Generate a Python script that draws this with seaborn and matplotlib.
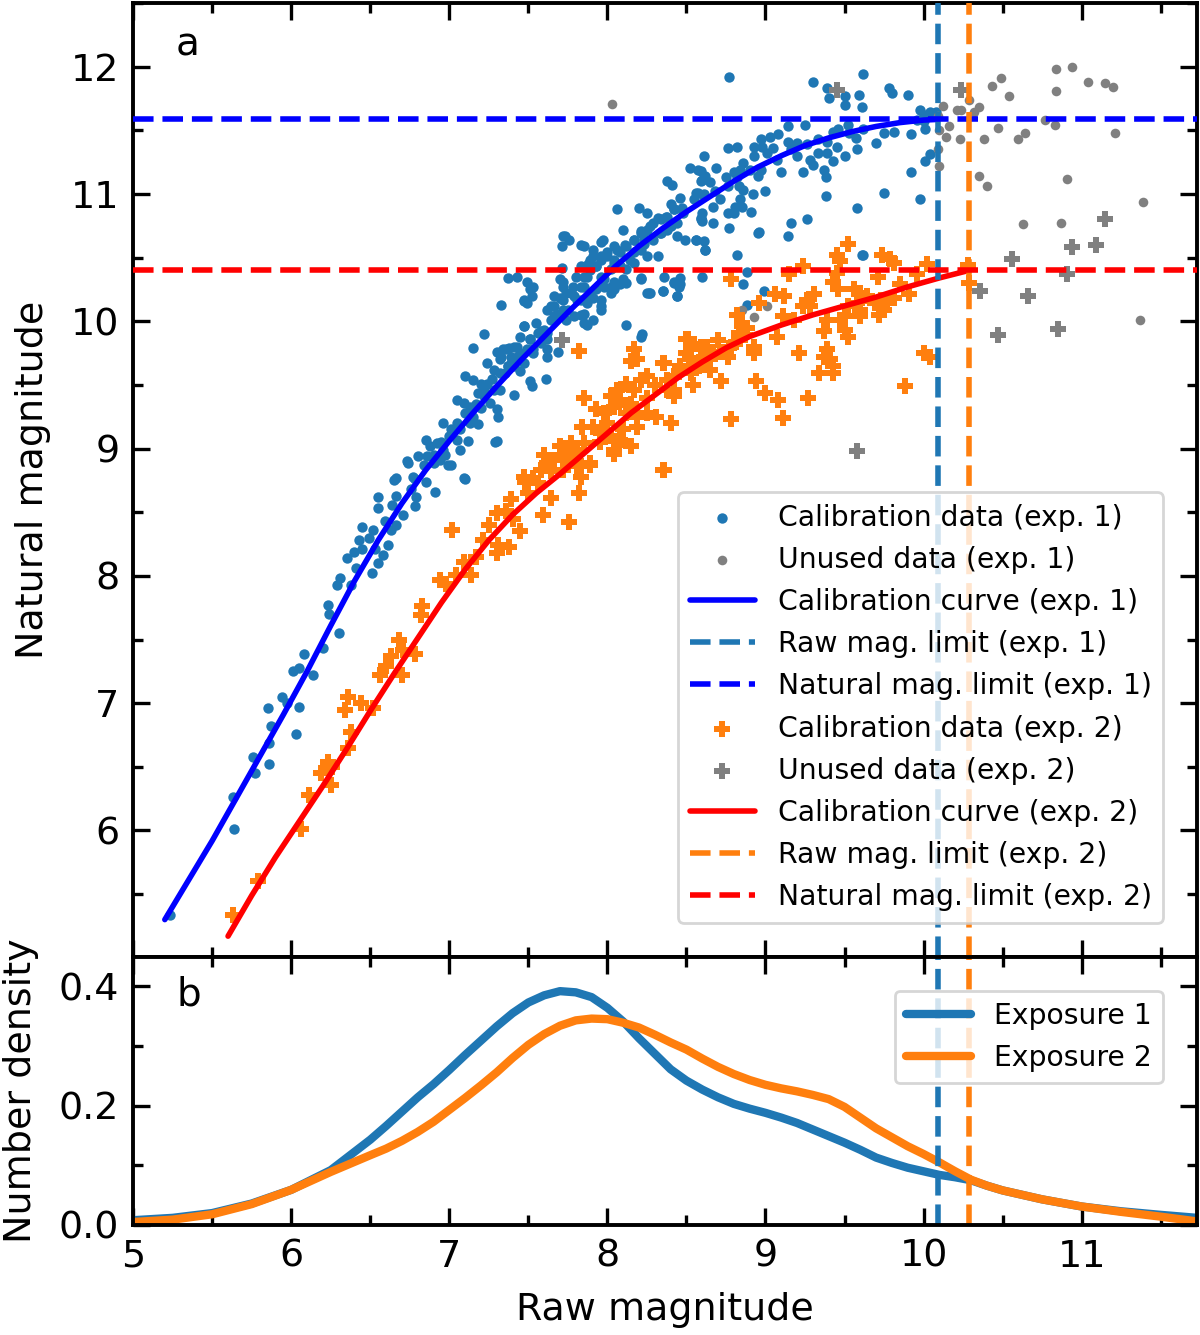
import matplotlib
matplotlib.use("Agg")
import matplotlib.pyplot as plt
from matplotlib.ticker import MultipleLocator, FormatStrFormatter
import pandas as pd
import seaborn as sns

# exposure 1 calibration stars (raw mag, natural mag)
cal1 = [
    (5.23, 5.34), (5.64, 6.01), (5.63, 6.26), (5.76, 6.58), (5.77, 6.45), (5.86, 6.52), (5.86, 6.69),
    (5.87, 6.82), (5.85, 6.96), (5.94, 7.05), (6.03, 6.76), (6.05, 6.97), (5.97, 7.00), (6.01, 7.25),
    (6.08, 7.39), (6.05, 7.28), (6.14, 7.22), (6.20, 7.43), (6.30, 7.55), (6.24, 7.70), (6.23, 7.77),
    (6.29, 7.93), (6.31, 7.98), (6.38, 7.93), (6.35, 8.14), (6.41, 8.06), (6.40, 8.19), (6.45, 8.21),
    (6.43, 8.28), (6.49, 8.30), (6.45, 8.38), (6.52, 8.36), (6.51, 8.02), (6.53, 8.21), (6.55, 8.10),
    (6.58, 8.16), (6.61, 8.24), (6.55, 8.62), (6.55, 8.53), (6.59, 8.43), (6.63, 8.36), (6.65, 8.75),
    (6.66, 8.63), (6.66, 8.40), (6.64, 8.56), (6.71, 8.48), (6.74, 8.89), (6.80, 8.94), (6.78, 8.76),
    (6.76, 8.68), (6.79, 8.62), (6.78, 8.55), (6.85, 8.74), (6.91, 8.66), (6.99, 8.87), (7.10, 8.76),
    (6.86, 8.94), (6.94, 8.91), (6.97, 8.95), (6.73, 8.90), (6.84, 8.87), (6.90, 8.89), (6.66, 8.77),
    (6.77, 8.78), (7.09, 8.77), (7.01, 8.87),
    (6.85, 9.07), (6.88, 9.02), (6.92, 9.04), (6.96, 8.99), (7.05, 9.07), (7.07, 8.99), (6.96, 9.20),
    (7.01, 9.15), (7.07, 9.15), (7.13, 9.20), (7.18, 9.19), (7.12, 9.06), (7.29, 9.05), (7.30, 9.06),
    (7.05, 9.38), (7.09, 9.36), (7.13, 9.33), (7.20, 9.32), (7.26, 9.36), (7.30, 9.31), (7.31, 9.25),
    (7.15, 9.25), (7.10, 9.57), (7.15, 9.54), (7.20, 9.51), (7.24, 9.51), (7.28, 9.46), (7.32, 9.46),
    (7.18, 9.44), (7.22, 9.41), (7.41, 9.42), (7.61, 9.55), (7.51, 9.53), (7.52, 9.49), (7.24, 9.67),
    (7.28, 9.62), (7.32, 9.59), (7.37, 9.65), (7.45, 9.61), (7.47, 9.67), (7.15, 9.79), (7.30, 9.76),
    (7.36, 9.78), (7.41, 9.80), (7.45, 9.75), (7.32, 9.70), (7.39, 9.67), (7.43, 9.72), (7.49, 9.78),
    (7.53, 9.75), (7.62, 9.72), (7.22, 9.90), (7.47, 9.96), (7.55, 9.99), (7.58, 9.92), (7.62, 9.91),
    (7.51, 9.86), (7.58, 9.83), (7.62, 9.78), (7.45, 9.88), (7.69, 9.76), (7.62, 10.09), (7.66, 10.04),
    (7.72, 10.09), (7.74, 10.01), (7.79, 10.04), (7.83, 10.05), (7.85, 9.99), (7.87, 9.97), (7.91, 10.01),
    (8.12, 9.97), (8.21, 9.88), (8.22, 9.90), (7.66, 10.20), (7.64, 10.12), (7.70, 10.18), (7.74, 10.22),
    (7.79, 10.20), (7.83, 10.17), (7.87, 10.14), (7.91, 10.18), (7.96, 10.17), (8.02, 10.22), (7.96, 10.12),
    (7.37, 10.34), (7.43, 10.35), (7.49, 10.31), (7.53, 10.27), (7.52, 10.20), (7.47, 10.16), (7.49, 10.14),
    (7.33, 10.13), (7.71, 10.42), (7.72, 10.31), (7.78, 10.27), (7.85, 10.27), (7.93, 10.25), (7.98, 10.27),
    (8.04, 10.25), (8.08, 10.29), (7.83, 10.43), (7.88, 10.45), (7.80, 10.35), (7.87, 10.35), (7.96, 10.35),
    (8.04, 10.31), (8.10, 10.33), (7.91, 10.51), (7.96, 10.48), (8.00, 10.51), (8.04, 10.46), (8.08, 10.43),
    (7.93, 10.43), (8.02, 10.41), (8.12, 10.41), (8.17, 10.46), (8.21, 10.34), (8.26, 10.22), (8.35, 10.24),
    (8.42, 10.30), (8.46, 10.29), (8.44, 10.20), (8.60, 10.35), (8.36, 10.35), (8.46, 10.34), (8.27, 10.22),
    (8.32, 10.51), (8.25, 10.51), (8.21, 10.56), (8.14, 10.48), (8.08, 10.54), (7.72, 10.67), (7.76, 10.64),
    (7.71, 10.59), (7.85, 10.59), (7.97, 10.64), (8.04, 10.59), (8.11, 10.60), (8.17, 10.64), (8.23, 10.65),
    (8.10, 10.72), (8.21, 10.71), (8.27, 10.75), (8.33, 10.69), (8.40, 10.75), (8.20, 10.89), (8.06, 10.88),
    (8.25, 10.85), (8.32, 10.81), (8.37, 10.82), (8.59, 10.81), (8.60, 10.79), (8.56, 10.64), (8.62, 10.56),
    (8.44, 10.67), (8.49, 10.64), (8.46, 10.97), (8.40, 10.92), (8.42, 10.88), (8.47, 10.89), (8.38, 11.10),
    (8.41, 11.07), (8.61, 11.30), (8.52, 11.20), (8.59, 11.18), (8.60, 11.11), (8.56, 11.01), (8.61, 11.00),
    (8.77, 11.92), (9.30, 11.88), (9.62, 11.94), (9.39, 11.83), (9.40, 11.75), (9.50, 11.77), (9.50, 11.70),
    (9.59, 11.78), (9.61, 11.68), (9.78, 11.83), (9.80, 11.79), (9.90, 11.78), (9.98, 11.66), (10.00, 11.62),
    (10.04, 11.64), (9.96, 11.58), (10.00, 11.57), (10.08, 11.64), (10.01, 11.51), (9.92, 11.47),
    (10.04, 11.31), (10.01, 11.26), (9.92, 11.17), (9.98, 10.96), (9.75, 11.01), (9.58, 10.89), (9.62, 10.52),
    (9.25, 11.54), (9.33, 11.43), (9.39, 11.41), (9.43, 11.49), (9.46, 11.51), (9.52, 11.54), (9.53, 11.48),
    (9.62, 11.51), (9.70, 11.40), (9.75, 11.48), (9.81, 11.49), (9.14, 11.53), (9.20, 11.40), (9.26, 11.39),
    (9.33, 11.32), (9.39, 11.32), (9.45, 11.37), (9.50, 11.30), (9.43, 11.26), (9.58, 11.35), (9.57, 11.44),
    (9.03, 11.45), (9.08, 11.47), (9.14, 11.41), (9.16, 11.35), (9.20, 11.30), (9.28, 11.27), (9.10, 11.17),
    (9.24, 11.17), (9.30, 11.23), (9.37, 11.19), (9.38, 11.13), (9.38, 10.98), (8.97, 11.43), (8.98, 11.37),
    (9.01, 11.32), (9.05, 11.36), (9.07, 11.27), (8.97, 11.19), (8.93, 11.30), (8.90, 11.19), (8.84, 11.19),
    (8.86, 11.24), (8.76, 11.36), (8.82, 11.37), (8.93, 11.37), (8.95, 11.14), (9.00, 11.02), (8.92, 11.00),
    (8.91, 10.86), (8.80, 11.17), (8.82, 11.13), (8.75, 11.13), (8.76, 11.06), (8.83, 11.06), (8.86, 11.03),
    (8.84, 10.96), (8.81, 10.90), (8.85, 10.90), (8.62, 11.14), (8.59, 11.10), (8.57, 11.19), (8.69, 11.20),
    (8.65, 11.09), (8.68, 11.02), (8.71, 10.96), (8.67, 10.90), (8.76, 10.85), (8.77, 10.73), (8.60, 10.85),
    (8.57, 11.01), (8.55, 10.96), (8.61, 10.98), (8.59, 10.80), (8.67, 10.77), (8.80, 10.85), (8.96, 10.70),
    (9.14, 10.67), (9.16, 10.77), (9.26, 10.80), (8.82, 10.52), (8.56, 10.64), (8.61, 10.63), (8.62, 10.56),
    (8.88, 10.39), (8.86, 10.29), (8.99, 10.24), (8.88, 10.13), (8.95, 10.69), (9.61, 10.52), (8.42, 10.31),
    (8.45, 10.27), (8.44, 10.20), (8.35, 10.24),
    # dense part of the band
    (7.34, 9.78), (7.39, 9.72), (7.43, 9.80), (7.37, 9.65), (7.45, 9.70), (7.51, 9.86), (7.56, 9.91),
    (7.60, 9.93), (7.53, 9.78), (7.62, 9.86), (7.64, 10.01), (7.68, 10.06), (7.66, 10.12), (7.72, 10.17),
    (7.75, 10.09), (7.77, 10.22), (7.81, 10.17), (7.83, 10.27), (7.70, 10.33), (7.72, 10.27), (7.85, 10.35),
    (7.89, 10.40), (7.93, 10.43), (7.89, 10.48), (7.96, 10.51), (8.00, 10.54), (7.91, 10.56), (8.04, 10.48),
    (8.08, 10.43), (8.06, 10.56), (8.12, 10.59), (7.98, 10.33), (8.02, 10.27), (7.89, 10.20), (7.96, 10.09),
    (7.85, 10.06), (8.17, 10.64), (8.21, 10.69), (8.25, 10.72), (8.29, 10.77), (8.34, 10.80), (8.38, 10.82),
    (8.42, 10.88), (8.23, 10.61), (8.29, 10.64), (8.17, 10.54), (8.34, 10.69), (8.38, 10.72), (8.44, 10.77),
    (8.48, 10.85), (8.12, 10.30), (8.21, 10.33), (8.25, 10.22), (7.47, 9.96), (7.47, 10.17), (7.51, 10.25),
    (7.73, 10.67), (7.83, 10.60), (7.96, 10.62), (7.33, 9.72), (7.38, 9.79), (7.41, 9.65), (7.35, 9.59),
    (7.00, 9.10), (7.05, 9.20), (7.10, 9.28), (7.17, 9.35), (7.22, 9.45), (7.27, 9.55), (6.90, 8.95),
    (6.95, 9.05),
]

# exposure 1 stars beyond the limits
unused1 = [
    (8.03, 11.71), (10.12, 11.69), (10.10, 11.50), (10.14, 11.45), (10.09, 11.35), (10.10, 11.22),
    (10.16, 11.53), (10.21, 11.66), (10.24, 11.66), (10.29, 11.74), (10.35, 11.68), (10.32, 11.64),
    (10.23, 11.43), (10.38, 11.43), (10.47, 11.52), (10.43, 11.85), (10.49, 11.91), (10.54, 11.77),
    (10.60, 11.43), (10.64, 11.48), (10.77, 11.58), (10.83, 11.54), (10.84, 11.98), (10.94, 12.00),
    (10.84, 11.81), (11.04, 11.88), (11.15, 11.87), (11.20, 11.84), (11.21, 11.48), (10.35, 11.14),
    (10.40, 11.06), (10.91, 11.12), (11.39, 10.94), (10.63, 10.76), (10.87, 10.77), (11.37, 10.01),
    (10.09, 11.61), (8.85, 10.09), (8.93, 10.03), (9.01, 10.12),
]

# exposure 2 calibration stars
cal2 = [
    (5.63, 5.34), (5.79, 5.60), (6.06, 6.01), (6.11, 6.28), (6.19, 6.45), (6.25, 6.36), (6.26, 6.50),
    (6.23, 6.54), (6.36, 6.65), (6.38, 6.77), (6.34, 6.95), (6.36, 7.05), (6.44, 7.00), (6.52, 6.96),
    (6.56, 7.22), (6.70, 7.22), (6.60, 7.29), (6.63, 7.37), (6.68, 7.50), (6.78, 7.39), (6.71, 7.42),
    (6.83, 7.76), (6.82, 7.69), (7.02, 8.36), (6.94, 7.97), (6.98, 7.94), (7.04, 8.01), (7.09, 8.11),
    (7.14, 8.01), (7.17, 8.15), (7.21, 8.28), (7.30, 8.18), (7.31, 8.24), (7.30, 8.49), (7.36, 8.51),
    (7.39, 8.60), (7.45, 8.35), (7.38, 8.23), (7.48, 8.74), (7.56, 8.73), (7.59, 8.48), (7.64, 8.61),
    (7.76, 8.42), (7.82, 8.65), (7.63, 8.89), (7.74, 8.91), (7.83, 8.86), (7.89, 8.87), (8.04, 8.96),
    (8.35, 8.83), (7.47, 8.78), (7.53, 8.77), (7.83, 8.78), (7.82, 9.77),
    (7.70, 9.02), (7.77, 9.04), (7.81, 8.99), (7.85, 9.04), (7.74, 8.94), (7.66, 8.91), (7.62, 8.89),
    (7.58, 8.83), (7.64, 8.82), (7.72, 8.83), (7.81, 8.86), (7.89, 8.89), (7.84, 9.17), (7.91, 9.17),
    (7.96, 9.12), (8.02, 9.10), (8.04, 8.99), (8.08, 9.07), (8.15, 9.02), (8.19, 9.17), (7.85, 9.40),
    (7.93, 9.31), (7.98, 9.28), (8.04, 9.33), (8.12, 9.28), (8.19, 9.25), (8.25, 9.28), (8.31, 9.25),
    (8.40, 9.20), (8.12, 9.51), (8.06, 9.46), (8.02, 9.41), (8.08, 9.38), (8.17, 9.46), (8.38, 9.54),
    (8.42, 9.46), (8.54, 9.50), (8.17, 9.78), (8.19, 9.70), (8.15, 9.69), (8.35, 9.67), (8.25, 9.57),
    (8.21, 9.54), (8.51, 9.86), (8.59, 9.80), (8.53, 9.78), (8.61, 9.72), (8.55, 9.67), (8.58, 9.65),
    (8.50, 9.86), (8.55, 9.82), (8.63, 9.80), (8.67, 9.75), (8.71, 9.76), (8.76, 9.72), (8.78, 9.80),
    (8.80, 9.83), (8.84, 9.86), (8.52, 9.70), (8.57, 9.65), (8.65, 9.70), (8.46, 9.65), (8.42, 9.57),
    (8.38, 9.46), (8.42, 9.41), (8.36, 9.67), (8.53, 9.59), (8.40, 9.20), (8.36, 8.83), (8.72, 9.53),
    (8.78, 9.23), (8.94, 9.53), (9.00, 9.44), (9.08, 9.38), (9.11, 9.24), (9.27, 9.40), (9.88, 9.49),
    (8.85, 9.96), (8.88, 9.95), (8.83, 9.91), (8.87, 9.89), (9.07, 9.88), (9.37, 9.92), (9.50, 9.93),
    (9.52, 9.88), (8.93, 9.80), (8.93, 9.75), (9.21, 9.75), (9.39, 9.78), (9.37, 9.72), (9.41, 9.70),
    (9.43, 9.65), (9.34, 9.59), (9.43, 9.59), (10.00, 9.75), (10.04, 9.72), (9.11, 10.04), (9.18, 10.01),
    (9.39, 10.01), (9.47, 10.01), (9.50, 10.04), (9.60, 10.04), (9.72, 10.05), (9.75, 10.09), (9.56, 10.25),
    (9.60, 10.22), (9.64, 10.20), (9.58, 10.14), (9.69, 10.14), (9.73, 10.17), (9.77, 10.14), (9.81, 10.18),
    (9.91, 10.21), (9.52, 10.12), (9.60, 10.09), (9.24, 10.43), (9.15, 10.37), (8.78, 10.33), (8.96, 10.14),
    (8.82, 10.05), (9.06, 10.21), (9.12, 10.20), (9.26, 10.17), (9.31, 10.21), (9.24, 10.12), (9.28, 10.12),
    (9.52, 10.61), (9.45, 10.52), (9.47, 10.47), (9.45, 10.38), (9.43, 10.31), (9.46, 10.25), (9.74, 10.52),
    (9.79, 10.49), (9.81, 10.46), (9.71, 10.35), (9.85, 10.29), (10.02, 10.45), (9.96, 10.37),
    (10.28, 10.44), (10.29, 10.30),
    # dense part of the band
    (7.95, 9.05), (8.00, 9.20), (8.10, 9.15), (8.15, 9.35), (8.25, 9.40), (8.30, 9.50), (8.45, 9.60),
    (8.50, 9.75), (8.65, 9.62), (8.70, 9.85), (7.70, 8.95), (7.60, 8.95), (7.50, 8.65), (7.40, 8.45),
    (7.25, 8.40),
]

# exposure 2 stars beyond the limits
unused2 = [
    (9.45, 11.82), (10.24, 11.82), (11.15, 10.80), (11.09, 10.60), (10.94, 10.58), (10.56, 10.49),
    (10.91, 10.37), (10.36, 10.24), (10.66, 10.20), (10.47, 9.89), (10.85, 9.94), (9.58, 8.98), (7.71, 9.85),
]

# fitted calibration curves
curve1_raw = [5.20, 5.35, 5.50, 5.65, 5.80, 5.95, 6.10, 6.25, 6.40, 6.55, 6.70, 6.85, 7.00, 7.15, 7.30,
              7.45, 7.60, 7.75, 7.90, 8.05, 8.20, 8.35, 8.50, 8.65, 8.80, 8.95, 9.10, 9.25, 9.40, 9.55,
              9.70, 9.85, 10.00, 10.09]
curve1_nat = [5.30, 5.61, 5.92, 6.25, 6.58, 6.91, 7.25, 7.61, 7.96, 8.28, 8.57, 8.83, 9.06, 9.28, 9.49,
              9.69, 9.88, 10.07, 10.25, 10.43, 10.59, 10.73, 10.86, 10.98, 11.10, 11.21, 11.30, 11.38, 11.44,
              11.49, 11.53, 11.56, 11.58, 11.585]
curve2_raw = [5.60, 5.75, 5.90, 6.05, 6.20, 6.35, 6.50, 6.65, 6.80, 6.95, 7.10, 7.25, 7.40, 7.55, 7.70,
              7.85, 8.00, 8.15, 8.30, 8.45, 8.60, 8.75, 8.90, 9.10, 9.30, 9.50, 9.70, 9.90, 10.10, 10.29]
curve2_nat = [5.17, 5.49, 5.79, 6.07, 6.35, 6.64, 6.94, 7.23, 7.51, 7.79, 8.05, 8.28, 8.48, 8.65, 8.80,
              8.96, 9.12, 9.28, 9.42, 9.56, 9.68, 9.79, 9.88, 9.97, 10.05, 10.12, 10.19, 10.27, 10.34, 10.40]

# limits
raw_lim1, raw_lim2 = 10.09, 10.29
nat_lim1, nat_lim2 = 11.585, 10.40

# number density of raw magnitudes
dens_x = [5.00, 5.25, 5.50, 5.75, 6.00, 6.25, 6.50, 6.60, 6.70, 6.80, 6.90, 7.00, 7.10, 7.20, 7.30, 7.40,
          7.50, 7.60, 7.70, 7.80, 7.90, 8.00, 8.10, 8.20, 8.30, 8.40, 8.50, 8.60, 8.70, 8.80, 8.90, 9.00,
          9.10, 9.20, 9.30, 9.40, 9.50, 9.60, 9.70, 9.80, 9.90, 10.00, 10.10, 10.20, 10.30, 10.40, 10.50,
          10.75, 11.00, 11.25, 11.50, 11.73]
dens1 = [0.008, 0.012, 0.020, 0.036, 0.059, 0.092, 0.143, 0.166, 0.190, 0.214, 0.236, 0.260, 0.285, 0.309,
         0.333, 0.355, 0.373, 0.385, 0.392, 0.390, 0.382, 0.364, 0.341, 0.313, 0.287, 0.261, 0.242, 0.227,
         0.214, 0.203, 0.195, 0.188, 0.180, 0.171, 0.160, 0.149, 0.138, 0.126, 0.113, 0.104, 0.096, 0.090,
         0.084, 0.080, 0.075, 0.066, 0.058, 0.043, 0.031, 0.023, 0.017, 0.012]
dens2 = [0.005, 0.009, 0.018, 0.035, 0.059, 0.089, 0.117, 0.128, 0.141, 0.156, 0.173, 0.193, 0.213, 0.234,
         0.256, 0.280, 0.302, 0.320, 0.334, 0.343, 0.346, 0.345, 0.339, 0.331, 0.319, 0.306, 0.294, 0.279,
         0.265, 0.253, 0.243, 0.235, 0.229, 0.224, 0.218, 0.211, 0.198, 0.180, 0.162, 0.147, 0.132, 0.119,
         0.105, 0.090, 0.076, 0.066, 0.058, 0.043, 0.031, 0.022, 0.014, 0.006]


def to_df(points):
    return pd.DataFrame(points, columns=["raw", "nat"])


def style_axis(ax):
    ax.tick_params(which="both", direction="in", top=True, right=True, width=1.2,
                   labelsize=13.7, colors="black", pad=5)
    ax.tick_params(which="major", length=6)
    ax.tick_params(which="minor", length=3.5)
    for sp in ax.spines.values():
        sp.set_linewidth(1.4)
        sp.set_color("black")


def main():
    sns.set_style("ticks")
    plt.rcParams.update({
        "font.family": ["DejaVu Sans"],
        "text.color": "black",
        "axes.labelcolor": "black",
        "axes.edgecolor": "black",
        "xtick.color": "black",
        "ytick.color": "black",
    })

    fig = plt.figure(figsize=(6, 6.675), dpi=200)
    gs = fig.add_gridspec(2, 1, height_ratios=[952, 268], hspace=0,
                          left=0.111, right=0.9975, top=0.9978, bottom=0.0824)
    ax1 = fig.add_subplot(gs[0])
    ax2 = fig.add_subplot(gs[1], sharex=ax1)

    sns.scatterplot(data=to_df(cal1), x="raw", y="nat", ax=ax1, color="tab:blue", marker="o",
                    s=14, linewidth=0, label="Calibration data (exp. 1)", zorder=2)
    sns.scatterplot(data=to_df(unused1), x="raw", y="nat", ax=ax1, color="grey", marker="o",
                    s=12, linewidth=0, label="Unused data (exp. 1)", zorder=2)
    sns.scatterplot(data=to_df(cal2), x="raw", y="nat", ax=ax1, color="tab:orange", marker="P",
                    s=30, linewidth=0, label="Calibration data (exp. 2)", zorder=2)
    sns.scatterplot(data=to_df(unused2), x="raw", y="nat", ax=ax1, color="grey", marker="P",
                    s=30, linewidth=0, label="Unused data (exp. 2)", zorder=2)

    sns.lineplot(x=curve1_raw, y=curve1_nat, ax=ax1, color="blue", lw=2, sort=False,
                 label="Calibration curve (exp. 1)", zorder=3)
    sns.lineplot(x=curve2_raw, y=curve2_nat, ax=ax1, color="red", lw=2, sort=False,
                 label="Calibration curve (exp. 2)", zorder=3)

    ax1.axvline(raw_lim1, color="tab:blue", ls="--", lw=2, label="Raw mag. limit (exp. 1)", zorder=3)
    ax1.axhline(nat_lim1, color="blue", ls="--", lw=2, label="Natural mag. limit (exp. 1)", zorder=3)
    ax1.axvline(raw_lim2, color="tab:orange", ls="--", lw=2, label="Raw mag. limit (exp. 2)", zorder=3)
    ax1.axhline(nat_lim2, color="red", ls="--", lw=2, label="Natural mag. limit (exp. 2)", zorder=3)

    order = ["Calibration data (exp. 1)", "Unused data (exp. 1)", "Calibration curve (exp. 1)",
             "Raw mag. limit (exp. 1)", "Natural mag. limit (exp. 1)", "Calibration data (exp. 2)",
             "Unused data (exp. 2)", "Calibration curve (exp. 2)", "Raw mag. limit (exp. 2)",
             "Natural mag. limit (exp. 2)"]
    handles, labels = ax1.get_legend_handles_labels()
    lookup = dict(zip(labels, handles))
    ax1.legend([lookup[k] for k in order], order, loc="lower right", fontsize=10.2,
               handlelength=2.3, borderaxespad=1.2, framealpha=0.8)

    ax1.set_xlim(5, 11.73)
    ax1.set_ylim(5.01, 12.5)
    ax1.xaxis.set_major_locator(MultipleLocator(1))
    ax1.xaxis.set_minor_locator(MultipleLocator(0.5))
    ax1.yaxis.set_major_locator(MultipleLocator(1))
    ax1.yaxis.set_minor_locator(MultipleLocator(0.5))
    style_axis(ax1)
    ax1.tick_params(labelbottom=False)
    ax1.set_xlabel("")
    ax1.set_ylabel("Natural magnitude", fontsize=13.7, labelpad=7)
    ax1.text(0.051, 0.956, "a", transform=ax1.transAxes, fontsize=14, ha="center", va="center")

    # bottom panel: number density
    sns.lineplot(x=dens_x, y=dens1, ax=ax2, color="tab:blue", lw=3, label="Exposure 1")
    sns.lineplot(x=dens_x, y=dens2, ax=ax2, color="tab:orange", lw=3, label="Exposure 2")
    ax2.axvline(raw_lim1, color="tab:blue", ls="--", lw=2)
    ax2.axvline(raw_lim2, color="tab:orange", ls="--", lw=2)
    ax2.legend(loc="upper right", fontsize=10.2, handlelength=2.3, borderaxespad=1.2, framealpha=0.8)

    ax2.set_ylim(0, 0.45)
    ax2.yaxis.set_major_locator(MultipleLocator(0.2))
    ax2.yaxis.set_minor_locator(MultipleLocator(0.1))
    ax2.yaxis.set_major_formatter(FormatStrFormatter("%.1f"))
    style_axis(ax2)
    ax2.set_xlabel("Raw magnitude", fontsize=13.7, labelpad=6)
    ax2.set_ylabel("Number density", fontsize=13.7, labelpad=7)
    ax2.text(0.052, 0.858, "b", transform=ax2.transAxes, fontsize=14, ha="center", va="center")

    fig.savefig("out.png", dpi=200)


if __name__ == '__main__':
    main()
